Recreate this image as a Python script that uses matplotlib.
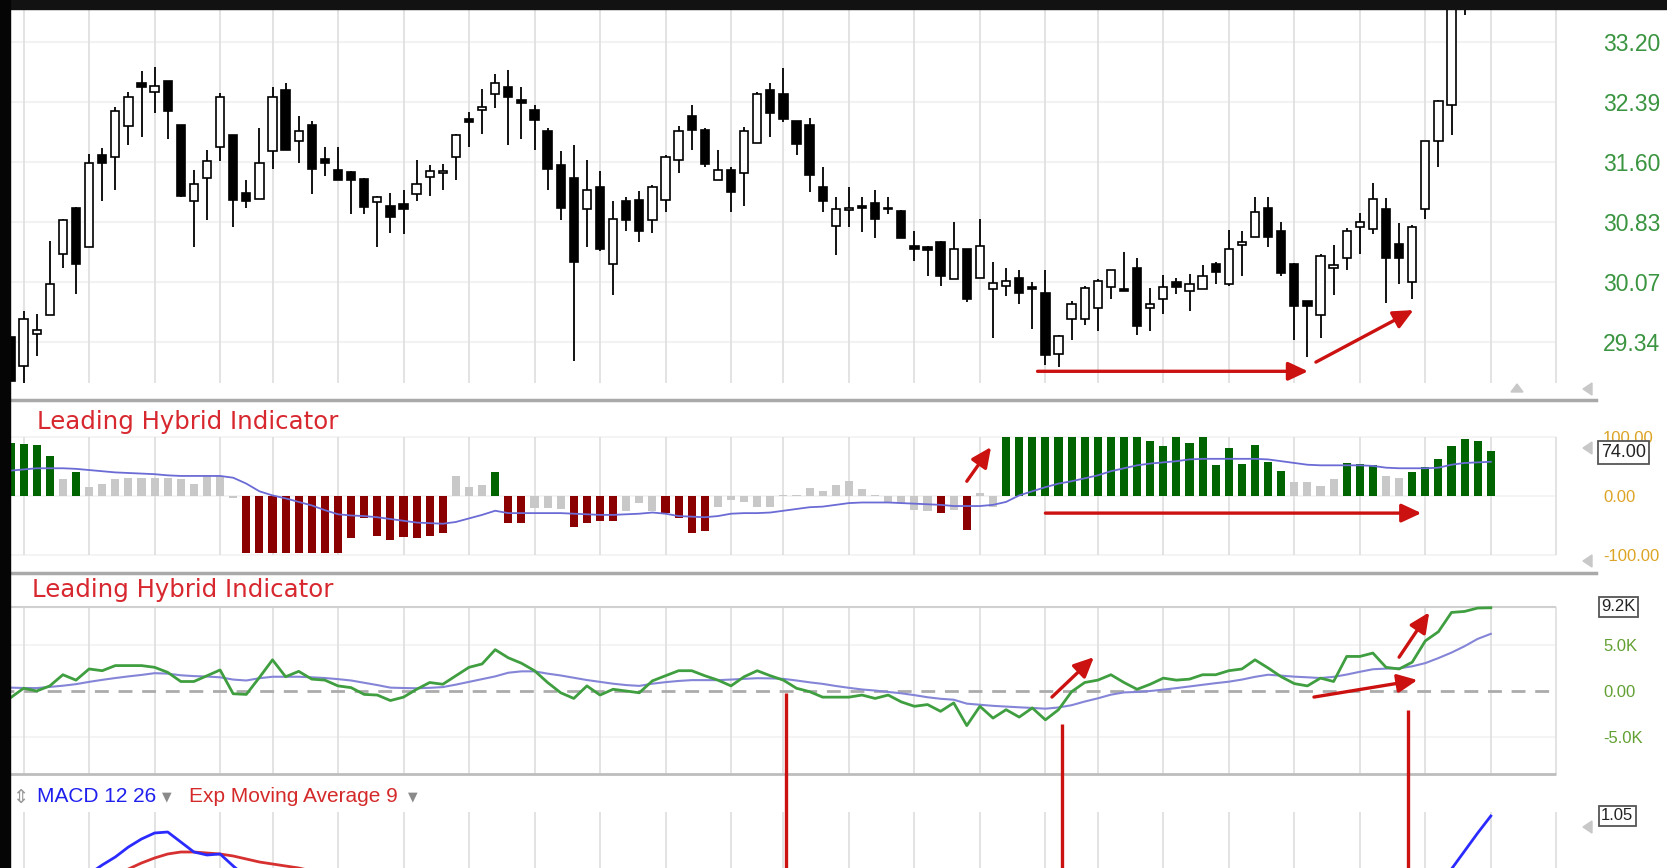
import numpy as np
import matplotlib.pyplot as plt
from matplotlib.patches import Rectangle, Polygon
from matplotlib.ticker import NullLocator
import matplotlib.transforms as mtransforms

# figure geometry in pixels
W, H = 1667, 868
X_RIGHT = 1596
XLIM = (-0.8015, 121.03)

# ---------
# DATA
# ---------
days = np.arange(114)
week_days = [1, 6, 11, 16, 20, 25, 30, 35, 40, 45, 50, 55, 59, 64, 69, 74, 79, 83,
             88, 93, 98, 103, 108, 113, 118]

opens = [29.40, 29.05, 29.44, 29.67, 30.42, 31.01, 30.51, 31.69, 31.66, 32.07,
         32.65, 32.52, 32.67, 32.09, 31.09, 31.39, 31.79, 31.95, 31.20, 31.12,
         31.74, 32.55, 31.88, 32.09, 31.64, 31.50, 31.47, 31.38, 31.08, 31.03,
         31.06, 31.19, 31.41, 31.45, 31.66, 32.17, 32.28, 32.49, 32.59, 32.42,
         32.28, 32.00, 31.56, 31.39, 30.99, 31.27, 30.30, 31.09, 31.11, 30.85,
         31.11, 31.63, 32.20, 32.02, 31.37, 31.49, 31.45, 31.85, 32.55, 32.49,
         32.14, 32.09, 31.27, 30.78, 30.98, 31.03, 31.07, 31.01, 30.97, 30.52,
         30.51, 30.58, 30.11, 30.49, 30.13, 29.99, 30.03, 30.13, 30.02, 29.94,
         29.20, 29.62, 29.62, 29.75, 30.02, 29.99, 30.25, 29.75, 29.87, 30.08,
         29.97, 29.99, 30.30, 30.05, 30.54, 30.64, 31.01, 30.72, 30.30, 29.84,
         29.67, 30.25, 30.37, 30.77, 30.74, 30.99, 30.55, 30.08, 30.99, 31.87,
         32.35, 34.10, 34.50, 34.80]
highs = [29.93, 29.72, 29.68, 30.59, 30.86, 31.02, 31.70, 31.78, 32.32, 32.52,
         32.80, 32.86, 32.67, 32.09, 31.49, 31.75, 32.51, 31.95, 31.36, 32.05,
         32.59, 32.65, 32.21, 32.14, 31.79, 31.79, 31.48, 31.39, 31.16, 31.20,
         31.24, 31.62, 31.56, 31.57, 31.97, 32.26, 32.56, 32.76, 32.82, 32.59,
         32.35, 32.04, 31.74, 31.82, 31.62, 31.48, 31.09, 31.15, 31.23, 31.30,
         31.69, 32.07, 32.35, 32.04, 31.76, 31.54, 32.06, 32.52, 32.64, 32.84,
         32.14, 32.18, 31.54, 31.15, 31.27, 31.15, 31.24, 31.15, 30.98, 30.71,
         30.52, 30.59, 30.83, 30.49, 30.87, 30.32, 30.25, 30.22, 30.08, 30.23,
         29.43, 29.84, 30.03, 30.11, 30.23, 30.45, 30.37, 30.00, 30.16, 30.13,
         30.17, 30.29, 30.32, 30.73, 30.72, 31.15, 31.15, 30.83, 30.31, 29.84,
         30.42, 30.54, 30.75, 30.94, 31.33, 31.14, 30.81, 30.79, 31.88, 32.41,
         34.40, 34.80, 35.10, 35.40]
lows = [28.87, 28.85, 29.17, 29.67, 30.25, 29.93, 30.51, 31.10, 31.24, 31.82,
        31.92, 32.24, 31.90, 31.15, 30.51, 30.85, 31.61, 30.77, 31.01, 31.12,
        31.51, 31.76, 31.58, 31.19, 31.42, 31.36, 30.93, 30.93, 30.51, 30.69,
        30.67, 31.10, 31.16, 31.24, 31.37, 31.80, 31.97, 32.31, 31.82, 31.90,
        31.76, 31.24, 30.85, 29.11, 30.51, 30.46, 29.91, 30.71, 30.58, 30.69,
        30.96, 31.45, 31.76, 31.54, 31.36, 30.96, 31.03, 31.85, 31.92, 32.12,
        31.69, 31.21, 30.96, 30.41, 30.77, 30.70, 30.62, 30.93, 30.62, 30.34,
        30.15, 30.03, 30.11, 29.83, 30.12, 29.39, 29.90, 29.80, 29.50, 29.06,
        29.04, 29.37, 29.55, 29.48, 29.87, 29.97, 29.43, 29.48, 29.68, 29.93,
        29.72, 29.99, 30.05, 30.03, 30.15, 30.64, 30.51, 30.15, 29.36, 29.16,
        29.39, 29.91, 30.22, 30.43, 30.67, 29.82, 30.05, 29.87, 30.86, 31.54,
        31.95, 33.57, 34.30, 34.60]
closes = [28.87, 29.62, 29.49, 30.05, 30.85, 30.30, 31.59, 31.59, 32.27, 32.46,
          32.59, 32.60, 32.27, 31.16, 31.31, 31.61, 32.46, 31.11, 31.09, 31.59,
          32.46, 31.76, 32.00, 31.51, 31.58, 31.36, 31.36, 31.02, 31.15, 30.89,
          30.99, 31.32, 31.48, 31.48, 31.95, 32.12, 32.32, 32.64, 32.46, 32.38,
          32.15, 31.51, 31.00, 30.32, 31.24, 30.49, 30.87, 30.85, 30.71, 31.27,
          31.66, 32.00, 32.02, 31.57, 31.49, 31.21, 32.00, 32.49, 32.24, 32.17,
          31.84, 31.43, 31.09, 30.99, 31.00, 31.01, 30.87, 30.99, 30.62, 30.49,
          30.47, 30.15, 30.49, 29.87, 30.52, 30.06, 30.09, 29.94, 29.99, 29.18,
          29.42, 29.81, 30.00, 30.09, 30.22, 29.97, 29.54, 29.81, 30.02, 30.01,
          30.05, 30.15, 30.20, 30.49, 30.58, 30.96, 30.64, 30.19, 29.78, 29.78,
          30.40, 30.29, 30.72, 30.83, 31.12, 30.37, 30.38, 30.77, 31.88, 32.40,
          34.20, 34.60, 34.90, 35.20]
price_ticks = [33.20, 32.39, 31.60, 30.83, 30.07, 29.34]

# Leading Hybrid Indicator histogram (g = bullish, r = bearish, n = neutral)
lhi_hist = [89, 88, 86, 67, 28, 41, 16, 21, 28, 31,
            31, 31, 31, 28, 21, 34, 34, -3, -97, -97,
            -97, -97, -97, -97, -97, -97, -71, -38, -67, -74,
            -69, -71, -67, -63, 34, 16, 19, 41, -45, -45,
            -20, -21, -22, -53, -45, -42, -42, -25, -12, -26,
            -29, -38, -63, -60, -18, -7, -11, -18, -18, 2,
            2, 13, 8, 19, 26, 12, 2, -10, -12, -24,
            -26, -29, -24, -57, 5, -18, 100, 100, 100, 100,
            100, 100, 100, 100, 100, 100, 100, 94, 84, 100,
            89, 100, 52, 82, 55, 86, 58, 43, 24, 24,
            17, 28, 56, 54, 52, 34, 31, 40, 49, 62,
            85, 97, 94, 76]
lhi_state = ("ggggngnnnn" "nnnnnnnnrr" "rrrrrrrrrr" "rrrrnnngrr" "nnnrrrrnnn"
             "rrrrnnnnnn" "nnnnnnnnnn" "nrnrnngggg" "gggggggggg" "ggggggggnn"
             "nngggnnggg" "gggg")
lhi_signal = [43, 45, 47, 47, 47, 46, 44, 42, 40, 39,
              38, 37, 35, 34, 34, 34, 34, 31, 21, 8,
              1, -4, -10, -16, -24, -31, -33, -34, -36, -39,
              -42, -45, -46, -47, -44, -38, -32, -25, -29, -29,
              -29, -29, -29, -30, -31, -32, -32, -31, -30, -28,
              -30, -34, -35, -36, -34, -30, -29, -29, -28, -25,
              -22, -19, -18, -15, -12, -11, -11, -11, -12, -13,
              -14, -15, -17, -17, -17, -15, -10, 1, 8, 15,
              21, 25, 30, 35, 42, 47, 52, 55, 57, 59,
              62, 63, 63, 63, 63, 63, 62, 59, 56, 53,
              52, 52, 52, 52, 51, 48, 47, 47, 47, 48,
              53, 56, 57, 58]

# second Leading Hybrid Indicator pane, values in thousands
lhi2_fast = [-0.74, 0.30, 0.00, 0.56, 1.78, 1.19, 2.41, 2.22, 2.78, 2.78,
             2.78, 2.59, 2.04, 1.04, 1.04, 1.67, 2.30, -0.30, -0.37, 1.48,
             3.41, 1.56, 2.15, 1.30, 1.19, 0.56, 0.37, -0.37, -0.44, -1.04,
             -0.67, 0.19, 0.93, 0.74, 1.67, 2.59, 2.96, 4.52, 3.63, 3.04,
             2.22, 0.93, -0.19, -0.81, 0.56, -0.44, 0.19, 0.00, -0.19, 1.11,
             1.67, 2.22, 2.22, 1.67, 1.19, 0.56, 1.56, 2.22, 1.67, 1.19,
             0.30, -0.07, -0.67, -0.67, -0.67, -0.44, -0.81, -0.44, -1.19, -1.67,
             -1.48, -2.22, -1.30, -3.78, -1.67, -2.96, -2.04, -2.85, -1.85, -3.15,
             -2.04, -0.07, 0.93, 1.19, 1.78, 0.93, 0.19, 0.74, 1.41, 1.19,
             1.30, 1.78, 1.78, 2.22, 2.41, 3.41, 2.52, 1.56, 0.81, 0.56,
             1.41, 1.04, 3.78, 3.78, 4.15, 2.59, 2.41, 3.15, 5.48, 6.48,
             8.59, 8.70, 9.07, 9.10]
lhi2_slow = [0.37, 0.33, 0.32, 0.45, 0.58, 0.75, 1.00, 1.22, 1.42, 1.60,
             1.76, 1.95, 1.90, 1.72, 1.63, 1.58, 1.50, 1.25, 1.15, 1.40,
             1.56, 1.56, 1.56, 1.50, 1.42, 1.30, 1.15, 0.90, 0.65, 0.37,
             0.33, 0.30, 0.35, 0.43, 0.70, 1.00, 1.30, 1.60, 2.00, 2.15,
             2.15, 1.90, 1.70, 1.45, 1.20, 1.00, 0.80, 0.65, 0.56, 0.80,
             0.97, 1.10, 1.19, 1.19, 1.19, 1.25, 1.33, 1.40, 1.38, 1.33,
             1.15, 0.95, 0.78, 0.55, 0.35, 0.17, 0.05, -0.10, -0.25, -0.45,
             -0.68, -0.85, -0.95, -1.38, -1.50, -1.62, -1.70, -1.78, -1.85, -1.93,
             -1.80, -1.55, -1.15, -0.80, -0.40, -0.15, -0.10, 0.00, 0.15, 0.32,
             0.50, 0.68, 0.86, 1.02, 1.25, 1.55, 1.78, 1.68, 1.57, 1.50,
             1.42, 1.55, 1.80, 2.10, 2.38, 2.45, 2.48, 2.70, 3.05, 3.60,
             4.20, 4.90, 5.70, 6.25]
lhi2_ticks = [5, 0, -5]

# MACD pane (only the visible parts)
macd_days_a = list(range(6, 19))
macd_a = [0.47, 0.56, 0.64, 0.74, 0.82, 0.88, 0.89, 0.79, 0.69, 0.66, 0.67, 0.55, 0.44]
macd_days_b = list(range(109, 114))
macd_b = [0.45, 0.52, 0.70, 0.88, 1.05]
ema_days = list(range(8, 24))
ema_vals = [0.47, 0.52, 0.58, 0.63, 0.67, 0.69, 0.69, 0.68, 0.67, 0.65,
            0.62, 0.59, 0.57, 0.55, 0.53, 0.50]

# ---------
# LAYOUT
# ---------
fig = plt.figure(figsize=(W / 100, H / 100), dpi=100)
fig.patch.set_facecolor('white')
TICKFONT = 'Liberation Sans'
ARROW_RED = '#cc1111'


def panel(top, bottom):
    ax = fig.add_axes([0, 1 - bottom / H, X_RIGHT / W, (bottom - top) / H])
    ax.set_xlim(*XLIM)
    for s in ax.spines.values():
        s.set_visible(False)
    ax.set_xticks([])
    ax.yaxis.tick_right()
    ax.tick_params(axis='y', length=0, pad=5)
    ax.patch.set_alpha(0)
    return ax


def red_arrow(ax, start, end):
    ax.annotate('', xy=end, xytext=start,
                arrowprops=dict(arrowstyle='-|>,head_length=0.6,head_width=0.28',
                                color=ARROW_RED, lw=2.4, shrinkA=0, shrinkB=0,
                                mutation_scale=20))


def value_box(ax, y, text, size):
    tr = mtransforms.blended_transform_factory(fig.transFigure, ax.transData)
    ax.text(1601 / W, y, text, transform=tr, fontsize=size, family=TICKFONT,
            va='center', ha='left', color='#222222', clip_on=False,
            bbox=dict(boxstyle='square,pad=0.15', fc='white', ec='#555555', lw=1.3))


# 1. price candles (log scale)
ax1 = panel(9, 398)
ax1.set_yscale('log')
ax1.set_ylim(28.673, 33.654)
ax1.hlines(price_ticks, XLIM[0], 118, color='#f2f2f2', lw=1.5, zorder=0)
ax1.vlines(week_days, 28.85, 33.7, color='#dedede', lw=1.2, zorder=0)
o = np.array(opens)
c = np.array(closes)
ax1.vlines(days, lows, highs, color='black', lw=1.3, zorder=2)
up = c >= o
body = np.maximum(np.abs(c - o), 0.006)
ax1.bar(days[up], body[up], bottom=o[up], width=0.64, color='white',
        edgecolor='black', linewidth=1.2, zorder=3)
ax1.bar(days[~up], body[~up], bottom=c[~up], width=0.64, color='black',
        edgecolor='black', linewidth=1.2, zorder=3)
ax1.yaxis.set_minor_locator(NullLocator())
ax1.set_yticks(price_ticks, [f'{v:.2f}' for v in price_ticks])
for lab in ax1.get_yticklabels():
    lab.set_fontsize(16.5)
    lab.set_color('#3a9440')
    lab.set_family(TICKFONT)
red_arrow(ax1, (78.4, 28.99), (99.05, 28.99))
red_arrow(ax1, (99.65, 29.10), (107.1, 29.73))

# 2. Leading Hybrid Indicator histogram
ax2 = panel(400, 572)
ax2.set_ylim(-128.8, 162.7)
ax2.hlines([100, 0, -100], XLIM[0], 118, color='#f2f2f2', lw=1.2, zorder=0)
ax2.vlines(week_days, -100, 100, color='#dedede', lw=1.2, zorder=0)
state_color = {'g': '#006400', 'r': '#8b0000', 'n': '#c8c8c8'}
ax2.bar(days, lhi_hist, width=0.62, color=[state_color[s] for s in lhi_state], zorder=2)
ax2.plot(days, lhi_signal, color='#6b6bd6', lw=1.3, zorder=3)
ax2.set_yticks([100, 0, -100], ['100.00', '0.00', '-100.00'])
for lab in ax2.get_yticklabels():
    lab.set_fontsize(12)
    lab.set_color('#dca424')
    lab.set_family(TICKFONT)
value_box(ax2, 74, '74.00', 13)
red_arrow(ax2, (73.0, 25), (74.85, 83))
red_arrow(ax2, (79.0, -29), (107.7, -29))

# 3. second Leading Hybrid Indicator pane
ax3 = panel(573, 774)
ax3.set_ylim(-9.07, 12.9)
ax3.hlines([5, -5], XLIM[0], 118, color='#f2f2f2', lw=1.2, zorder=0)
ax3.vlines(week_days, -9.07, 9.2, color='#dedede', lw=1.2, zorder=0)
ax3.hlines(9.2, XLIM[0], 118, color='#d0d0d0', lw=1.5, zorder=1)
ax3.hlines(-9.07, XLIM[0], 118, color='#bdbdbd', lw=2, zorder=1, clip_on=False)
ax3.hlines(0, XLIM[0], 118, color='#ababab', lw=2, linestyles=(0, (5, 3.5)), zorder=1)
ax3.plot(days, lhi2_slow, color='#8585d8', lw=1.5, zorder=2)
ax3.plot(days, lhi2_fast, color='#3f9e3f', lw=2, zorder=3)
ax3.set_yticks(lhi2_ticks, ['5.0K', '0.00', '-5.0K'])
for lab in ax3.get_yticklabels():
    lab.set_fontsize(12)
    lab.set_color('#62a032')
    lab.set_family(TICKFONT)
value_box(ax3, 9.2, '9.2K', 12)
red_arrow(ax3, (79.5, -0.66), (82.7, 3.7))
red_arrow(ax3, (106.0, 3.7), (108.3, 8.6))
red_arrow(ax3, (99.5, -0.66), (107.4, 1.2))

# 4. MACD pane
ax4 = panel(774, 868)
ax4.set_ylim(0.53, 1.47)
ax4.set_yticks([])
ax4.vlines(week_days, 0.4, 1.09, color='#dedede', lw=1.2, zorder=0)
ax4.plot(ema_days, ema_vals, color='#d63030', lw=2, zorder=2)
ax4.plot(macd_days_a, macd_a, color='#2b2bff', lw=2, zorder=3)
ax4.plot(macd_days_b, macd_b, color='#2b2bff', lw=2, zorder=3)
value_box(ax4, 1.05, '1.05', 12)
# vertical red marker lines reaching up into the pane above
ax4.vlines([59.2, 80.3, 106.7], 0.4, [2.28, 1.97, 2.11], color=ARROW_RED,
           lw=2.4, clip_on=False, zorder=5)

# pane titles
fig.text(37 / W, 1 - 422 / H, 'Leading Hybrid Indicator', color='#d8282f',
         fontsize=17.6, va='center')
fig.text(32 / W, 1 - 590 / H, 'Leading Hybrid Indicator', color='#d8282f',
         fontsize=17.6, va='center')
fig.text(12 / W, 1 - 797 / H, '\u21d5', color='#9a9a9a', fontsize=14, va='center')
fig.text(37 / W, 1 - 797 / H, 'MACD 12 26', color='#2020ee', fontsize=15,
         family=TICKFONT, va='center')
fig.text(162 / W, 1 - 797 / H, '\u25bc', color='#8a8a8a', fontsize=9, va='center')
fig.text(189 / W, 1 - 797 / H, 'Exp Moving Average 9', color='#d42a2a', fontsize=15,
         family=TICKFONT, va='center')
fig.text(408 / W, 1 - 797 / H, '\u25bc', color='#8a8a8a', fontsize=9, va='center')

# frame, separators and scroll markers drawn on a pixel overlay
ov = fig.add_axes([0, 0, 1, 1])
ov.set_xlim(0, W)
ov.set_ylim(H, 0)
ov.axis('off')
ov.patch.set_alpha(0)
ov.add_patch(Rectangle((0, 0), W, 9, color='#121212', zorder=10))
ov.add_patch(Rectangle((0, 0), 9.6, H, color='#050505', zorder=10))
ov.plot([9.6, X_RIGHT], [399.5, 399.5], color='#a9a9a9', lw=2.5)
ov.plot([9.6, X_RIGHT], [572.5, 572.5], color='#a9a9a9', lw=2.5)
tri = '#c8c8c8'
for ty in [389, 448, 561, 827]:
    ov.add_patch(Polygon([[1583, ty], [1592, ty - 6], [1592, ty + 6]], color=tri))
ov.add_patch(Polygon([[1511, 392], [1523, 392], [1517, 384]], color=tri))

fig.savefig('out.png', dpi=100)
